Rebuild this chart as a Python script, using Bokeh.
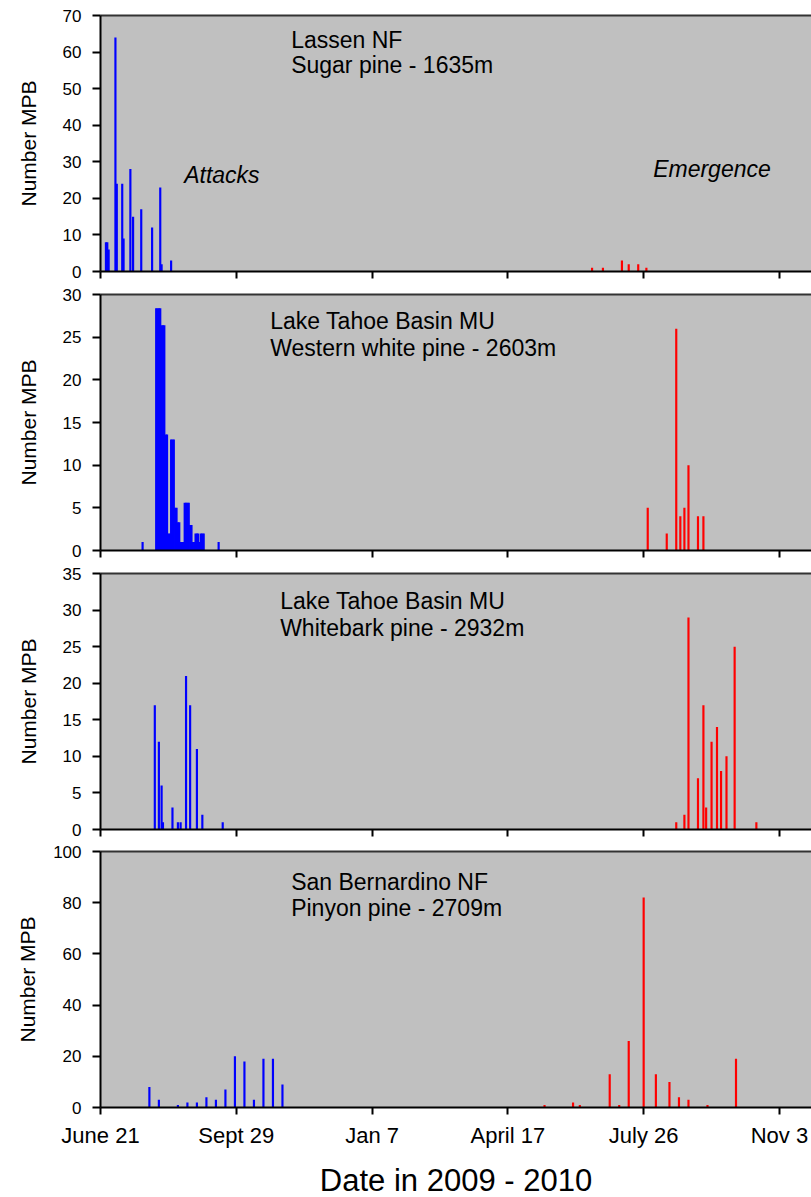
from bokeh.plotting import figure
from bokeh.models import Range1d, FixedTicker, Label, LinearAxis
from bokeh.layouts import column
from bokeh.embed import file_html
from bokeh.resources import INLINE

FONT = "Liberation Sans"

# x axis: days since June 21, 2009
tick_days = [0, 100, 200, 300, 400, 500]
tick_labels = ["June 21", "Sept 29", "Jan 7", "April 17", "July 26", "Nov 3"]

# Panel 1 - Lassen NF, Sugar pine
lassen_attack_days = [4, 5, 6, 11, 12, 16, 17, 22, 24, 30, 38, 44, 45, 52]
lassen_attack_counts = [8, 8, 6, 64, 24, 24, 9, 28, 15, 17, 12, 23, 2, 3]
lassen_emerge_days = [362, 370, 384, 389, 396, 402]
lassen_emerge_counts = [1, 1, 3, 2, 2, 1]

# Panel 2 - Lake Tahoe Basin MU, Western white pine
wwp_attack_days = [31, 41, 42, 43, 44, 45, 46, 47, 48, 49, 50, 51, 52, 53, 54,
                   55, 56, 57, 58, 59, 60, 61, 62, 63, 64, 65, 66, 67, 68, 69,
                   70, 71, 72, 73, 74, 75, 76, 87]
wwp_attack_counts = [1, 28.4, 28.4, 28.4, 28.4, 26.4, 26.4, 26.4, 13.6, 13.6,
                     2, 2, 13, 13, 13, 5, 5, 3.3, 3.3, 1, 1, 1, 5.6, 5.6, 5.6,
                     5.6, 3, 3, 1, 1, 2, 2, 2, 1, 2, 2, 2, 1]
wwp_emerge_days = [403, 417, 424, 427, 430, 433, 440, 444]
wwp_emerge_counts = [5, 2, 26, 4, 5, 10, 4, 4]

# Panel 3 - Lake Tahoe Basin MU, Whitebark pine
wbp_attack_days = [40, 43, 45, 46, 53, 57, 59, 63, 66, 71, 75, 90]
wbp_attack_counts = [17, 12, 6, 1, 3, 1, 1, 21, 17, 11, 2, 1]
wbp_emerge_days = [424, 430, 433, 440, 444, 446, 450, 454, 457, 461, 467, 483]
wbp_emerge_counts = [1, 2, 29, 7, 17, 3, 12, 14, 8, 10, 25, 1]

# Panel 4 - San Bernardino NF, Pinyon pine
pin_attack_days = [36, 43, 57, 64, 71, 78, 85, 92, 99, 106, 113, 120, 127, 134]
pin_attack_counts = [8, 3, 1, 2, 2, 4, 3, 7, 20, 18, 3, 19, 19, 9]
pin_emerge_days = [327, 348, 353, 375, 382, 389, 400, 409, 419, 426, 433, 447, 468]
pin_emerge_counts = [1, 2, 1, 13, 1, 26, 82, 13, 10, 4, 3, 1, 19]

BAR_W = 1.6
FRAME_W = 711
X_END = 523.6
FRAME_H = 256


def make_panel(ymax, ystep, a_days, a_counts, e_days, e_counts, labels,
               top_border, last=False, ylabel_standoff=20):
    p = figure(frame_width=FRAME_W, frame_height=FRAME_H,
               x_range=Range1d(0, X_END), y_range=Range1d(0, ymax),
               output_backend="svg", toolbar_location=None,
               min_border_left=100, min_border_right=0,
               min_border_top=top_border, min_border_bottom=11)
    p.background_fill_color = "#C0C0C0"
    p.border_fill_color = "white"
    p.outline_line_color = None
    p.grid.visible = False

    p.vbar(x=a_days, top=a_counts, width=BAR_W, fill_color="#0000FF", line_color=None)
    p.vbar(x=e_days, top=e_counts, width=BAR_W, fill_color="#FF0000", line_color=None)

    xa = p.xaxis[0]
    xa.ticker = FixedTicker(ticks=tick_days)
    xa.major_label_overrides = {d: l for d, l in zip(tick_days, tick_labels)}
    xa.major_tick_out = 7
    xa.major_tick_in = 0
    xa.minor_tick_out = 0
    xa.minor_tick_in = 0
    xa.axis_line_width = 2
    xa.major_tick_line_width = 2
    xa.axis_line_color = "black"
    xa.major_tick_line_color = "black"
    if last:
        xa.major_label_text_font = FONT
        xa.major_label_text_font_size = "22px"
        xa.major_label_text_color = "black"
        xa.major_label_standoff = 8
        xa.axis_label = "Date in 2009 - 2010"
        xa.axis_label_text_font = FONT
        xa.axis_label_text_font_size = "31px"
        xa.axis_label_text_font_style = "normal"
        xa.axis_label_text_color = "black"
        xa.axis_label_standoff = 12
    else:
        # tick marks only: labels are not drawn
        xa.major_label_text_font_size = "1px"
        xa.major_label_text_color = None
        xa.major_label_standoff = 0

    ya = p.yaxis[0]
    ya.ticker = FixedTicker(ticks=list(range(0, ymax + 1, ystep)))
    ya.major_tick_out = 8
    ya.major_tick_in = 0
    ya.minor_tick_out = 0
    ya.minor_tick_in = 0
    ya.axis_line_width = 2
    ya.major_tick_line_width = 2
    ya.axis_line_color = "black"
    ya.major_tick_line_color = "black"
    ya.major_label_text_font = FONT
    ya.major_label_text_font_size = "17px"
    ya.major_label_text_color = "black"
    ya.major_label_standoff = 11
    ya.axis_label = "Number MPB"
    ya.axis_label_text_font = FONT
    ya.axis_label_text_font_size = "21px"
    ya.axis_label_text_font_style = "normal"
    ya.axis_label_text_color = "black"
    ya.axis_label_standoff = ylabel_standoff

    top = LinearAxis(ticker=FixedTicker(ticks=[]), major_label_text_font_size="1px",
                     major_label_text_color=None,
                     major_label_standoff=0, major_tick_out=0, major_tick_in=0,
                     minor_tick_out=0, minor_tick_in=0,
                     axis_line_color="#333333", axis_line_width=2)
    p.add_layout(top, "above")

    for (lx, ly, txt, italic) in labels:
        p.add_layout(Label(x=lx, y=ly, text=txt, text_font=FONT,
                           text_font_size="23px", text_color="black",
                           text_font_style="italic" if italic else "normal",
                           text_align="left", text_baseline="middle"))
    return p


p1 = make_panel(70, 10, lassen_attack_days, lassen_attack_counts,
                lassen_emerge_days, lassen_emerge_counts,
                [(140.4, 63.4, "Lassen NF", False),
                 (140.4, 56.4, "Sugar pine - 1635m", False),
                 (61.6, 26.4, "Attacks", True),
                 (407, 28.1, "Emergence", True)], top_border=15)
p2 = make_panel(30, 5, wwp_attack_days, wwp_attack_counts,
                wwp_emerge_days, wwp_emerge_counts,
                [(125, 26.9, "Lake Tahoe Basin MU", False),
                 (125, 23.7, "Western white pine - 2603m", False)], top_border=12)
p3 = make_panel(35, 5, wbp_attack_days, wbp_attack_counts,
                wbp_emerge_days, wbp_emerge_counts,
                [(132.3, 31.3, "Lake Tahoe Basin MU", False),
                 (132.3, 27.6, "Whitebark pine - 2932m", False)], top_border=12)
p4 = make_panel(100, 20, pin_attack_days, pin_attack_counts,
                pin_emerge_days, pin_emerge_counts,
                [(140.4, 87.9, "San Bernardino NF", False),
                 (140.4, 77.8, "Pinyon pine - 2709m", False)], top_border=11,
                last=True, ylabel_standoff=11)

layout = column(p1, p2, p3, p4)
open("out.html", "w").write(file_html(layout, INLINE))
